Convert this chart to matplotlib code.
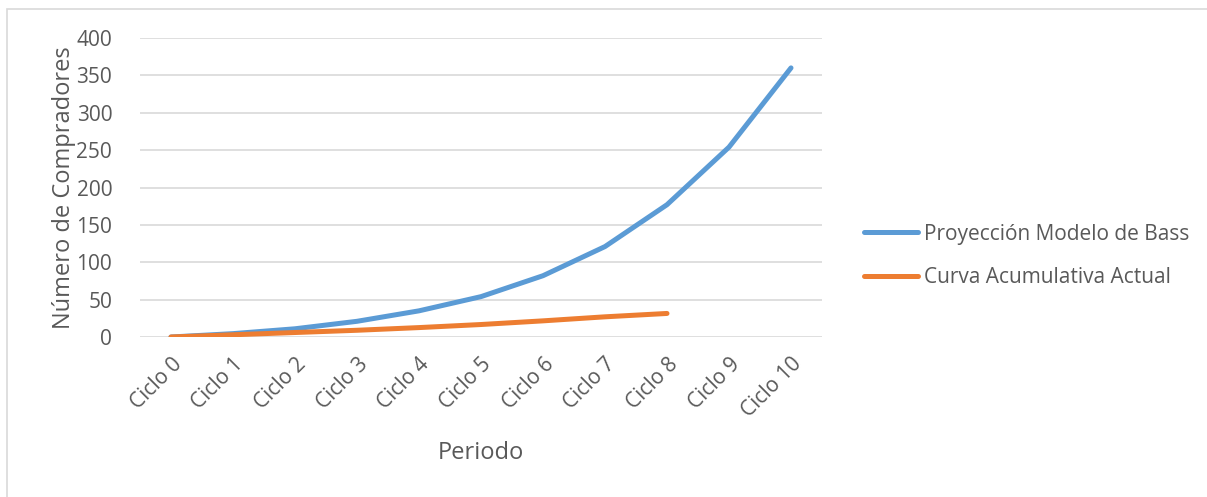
import numpy as np
import matplotlib
matplotlib.use("Agg")
import matplotlib.pyplot as plt
from matplotlib.patches import Rectangle

# data
ciclos = ["Ciclo 0", "Ciclo 1", "Ciclo 2", "Ciclo 3", "Ciclo 4", "Ciclo 5",
          "Ciclo 6", "Ciclo 7", "Ciclo 8", "Ciclo 9", "Ciclo 10"]
bass = [0, 4.5, 11, 21, 35, 54, 82, 121, 177, 254, 360]
actual = [0, 3, 6, 9, 12.6, 16.7, 21.6, 27, 31.5]

blue = "#5B9BD5"
orange = "#ED7D31"
gray_text = "#595959"
grid_col = "#D9D9D9"

plt.rcParams['font.family'] = ['Open Sans', 'DejaVu Sans']

fig = plt.figure(figsize=(12.07, 4.97), dpi=100)
# outer chart frame (cut off on right/bottom like the original)
fig.patches.append(Rectangle((7 / 1207, -0.1), 1.2, 1 - 9 / 497 + 0.1,
                             transform=fig.transFigure, fill=False,
                             edgecolor=grid_col, linewidth=1.2))

ax = fig.add_axes([140 / 1207, 160 / 497, 682 / 1207, 299 / 497])
x = np.arange(len(ciclos))
ax.plot(x, bass, color=blue, lw=3.6, solid_capstyle='round',
        label="Proyección Modelo de Bass")
ax.plot(x[:len(actual)], actual, color=orange, lw=3.6, solid_capstyle='round',
        label="Curva Acumulativa Actual")

ax.set_xlim(-0.5, len(ciclos) - 0.5)
ax.set_ylim(0, 400)
ax.set_yticks(np.arange(0, 401, 50))
ax.set_xticks(x)
ax.set_xticklabels(ciclos, rotation=45, ha='right', rotation_mode='anchor')
ax.yaxis.grid(True, color=grid_col, lw=1.2)
ax.set_axisbelow(True)
for s in ax.spines.values():
    s.set_visible(False)
ax.tick_params(length=0, colors=gray_text, labelsize=15)
ax.tick_params(axis='x', pad=12)
ax.tick_params(axis='y', pad=20)

ax.set_ylabel("Número de Compradores", color=gray_text, fontsize=17, labelpad=0)
ax.set_xlabel("Periodo", color=gray_text, fontsize=17, labelpad=14)

leg = ax.legend(loc='center left', bbox_to_anchor=(845 / 1207, 241 / 497),
                bbox_transform=fig.transFigure, frameon=False,
                fontsize=15, handlelength=2.6, handletextpad=0.3,
                labelspacing=1.1, labelcolor=gray_text)

fig.savefig("out.png", dpi=100)
